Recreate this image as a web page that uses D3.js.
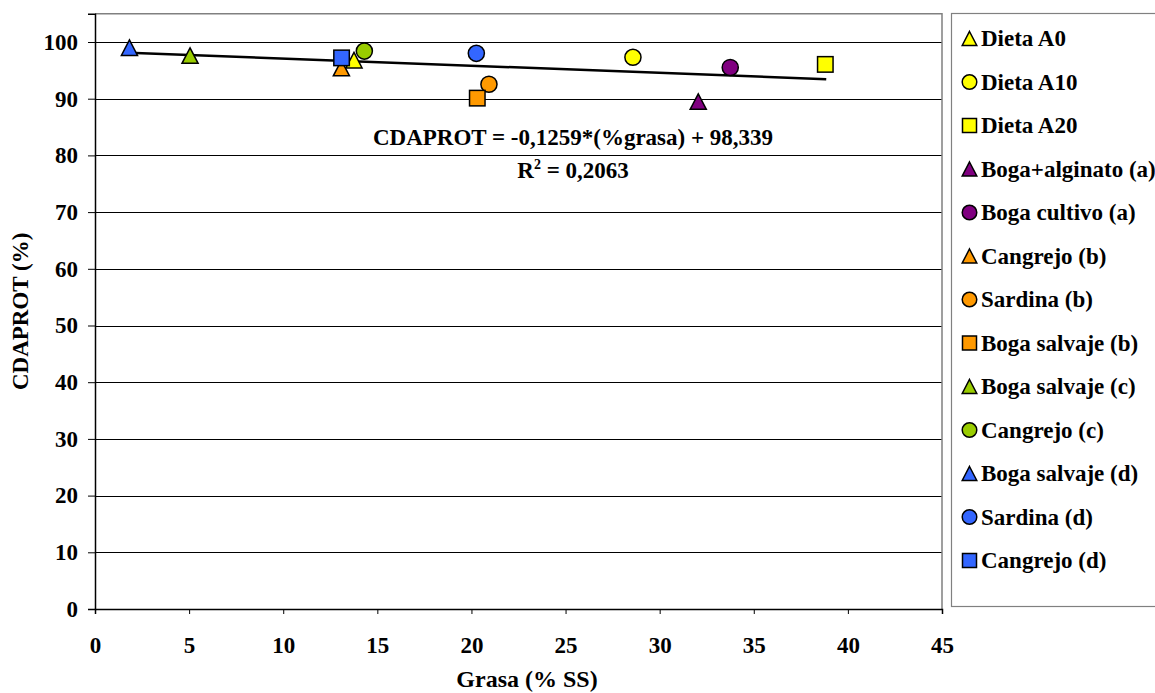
<!DOCTYPE html>
<html><head><meta charset="utf-8">
<script src="https://cdn.jsdelivr.net/npm/d3@7"></script>
<style>body{margin:0;background:#fff}</style>
</head><body><svg id="c" width="1155" height="693"></svg>
<script>
const seriesNames = ["Dieta A0","Dieta A10","Dieta A20","Boga+alginato (a)","Boga cultivo (a)","Cangrejo (b)","Sardina (b)","Boga salvaje (b)","Boga salvaje (c)","Cangrejo (c)","Boga salvaje (d)","Sardina (d)","Cangrejo (d)"];
const seriesShapes = ["triangle","circle","square","triangle","circle","triangle","circle","square","triangle","circle","triangle","circle","square"];
const seriesColors = ["#FFFF00","#FFFF00","#FFFF00","#800080","#800080","#FF9900","#FF9900","#FF9900","#99CC00","#99CC00","#3366FF","#3366FF","#3366FF"];
const grasaValues = [13.76,28.58,38.8,32.05,33.75,13.09,20.93,20.31,5.05,14.31,1.83,20.26,13.1];
const cdaprotValues = [96.8,97.3,96.05,89.5,95.5,95.4,92.55,90.1,97.6,98.4,99.0,98.0,97.2];
const xTicks = [0,5,10,15,20,25,30,35,40,45];
const yTicks = [0,10,20,30,40,50,60,70,80,90,100];
const trendSlope = -0.1259, trendIntercept = 98.339;
const trendRange = [1.8, 38.85];
const eqLines = ["CDAPROT = -0,1259*(%grasa) + 98,339", "R² = 0,2063"];

const FF = "Liberation Serif";
const svg = d3.select("#c");
const L = 95, R = 942, B = 609, T = B - 105*5.67;
const x = d3.scaleLinear().domain([0,45]).range([L,R]);
const y = d3.scaleLinear().domain([0,105]).range([B,T]);

svg.append("g").selectAll("line").data(yTicks.filter(d=>d>0)).join("line")
  .attr("x1",L).attr("x2",R).attr("y1",d=>Math.round(y(d))+0.5).attr("y2",d=>Math.round(y(d))+0.5)
  .attr("stroke","#000").attr("stroke-width",1);
svg.append("path").attr("d",`M${L},${T}H${R}V${B}`).attr("fill","none").attr("stroke","#808080").attr("stroke-width",1.5);

const xa = svg.append("g").attr("transform",`translate(0,${B})`)
  .call(d3.axisBottom(x).tickValues(xTicks).tickSize(5).tickPadding(23));
const ya = svg.append("g").attr("transform",`translate(${L},0)`)
  .call(d3.axisLeft(y).tickValues(yTicks).tickSize(7).tickPadding(10));
[xa,ya].forEach(a=>{
  a.attr("font-family",FF).attr("font-weight","bold");
  a.select(".domain").attr("stroke","#000").attr("stroke-width",1.5);
  a.selectAll(".tick line").attr("stroke","#000");
  a.selectAll(".tick text").attr("font-size",23).attr("fill","#000");
});

function txt(sel){ return sel.attr("font-family",FF).attr("font-weight","bold").attr("fill","#000"); }
txt(svg.append("text")).attr("x",527).attr("y",687).attr("text-anchor","middle").attr("font-size",24).text("Grasa (% SS)");
txt(svg.append("text")).attr("transform",`translate(28,${(T+B)/2}) rotate(-90)`).attr("text-anchor","middle").attr("font-size",23).text("CDAPROT (%)");

svg.append("line").attr("x1",x(trendRange[0])).attr("y1",y(trendSlope*trendRange[0]+trendIntercept))
  .attr("x2",x(trendRange[1])).attr("y2",y(trendSlope*trendRange[1]+trendIntercept))
  .attr("stroke","#000").attr("stroke-width",2.5);

function marker(g, shape, color, s){
  if(shape==="circle") g.append("circle").attr("r",s*0.52).attr("fill",color).attr("stroke","#000").attr("stroke-width",1.5);
  else if(shape==="square") g.append("rect").attr("x",-s/2).attr("y",-s/2).attr("width",s).attr("height",s).attr("fill",color).attr("stroke","#000").attr("stroke-width",1.5);
  else g.append("path").attr("d",`M0,${-s*0.5}L${s*0.52},${s*0.5}L${-s*0.52},${s*0.5}Z`).attr("fill",color).attr("stroke","#000").attr("stroke-width",1.5);
}

const pts = svg.append("g");
seriesNames.forEach((n,i)=>{
  const g = pts.append("g").attr("transform",`translate(${x(grasaValues[i])},${y(cdaprotValues[i])})`);
  marker(g, seriesShapes[i], seriesColors[i], 15.5);
});

txt(svg.append("text")).attr("x",573).attr("y",145).attr("text-anchor","middle").attr("font-size",23).text(eqLines[0]);
const t2 = txt(svg.append("text")).attr("x",573).attr("y",178).attr("text-anchor","middle").attr("font-size",23);
t2.append("tspan").text("R");
t2.append("tspan").attr("font-size",14).attr("dy",-9).text("2");
t2.append("tspan").attr("dy",9).text(" = 0,2063");

svg.append("rect").attr("x",951.5).attr("y",13.5).attr("width",220).attr("height",593).attr("fill","#fff").attr("stroke","#808080").attr("stroke-width",1.2);
const lg = svg.append("g");
seriesNames.forEach((n,i)=>{
  const yy = 38.5 + i*43.5;
  const g = lg.append("g").attr("transform",`translate(969.5,${yy})`);
  marker(g, seriesShapes[i], seriesColors[i], 14);
  txt(lg.append("text")).attr("x",981).attr("y",yy+7.5).attr("font-size",23).text(n);
});
</script></body></html>
